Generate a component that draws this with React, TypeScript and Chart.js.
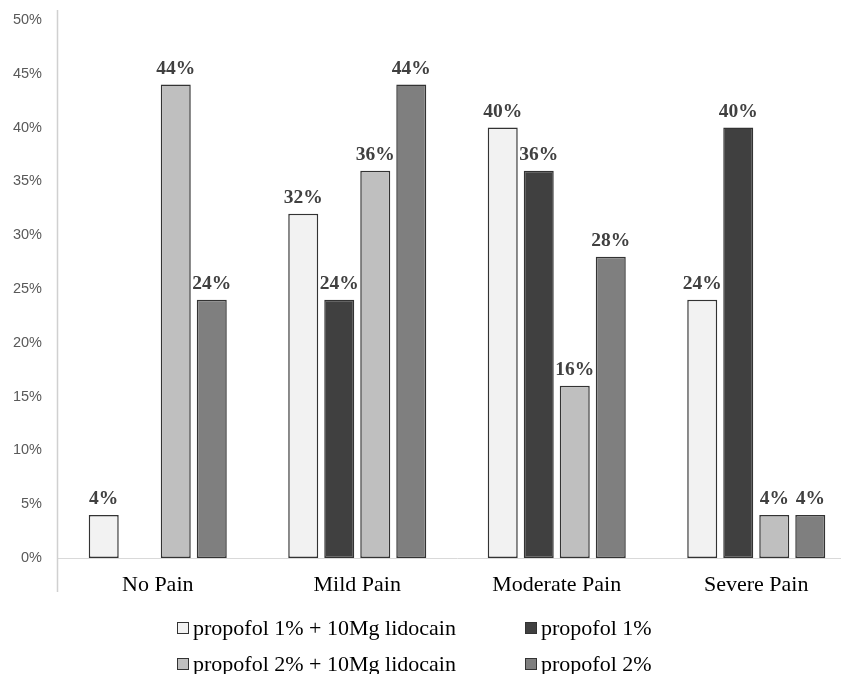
import React, { useEffect, useRef } from "react";
import { Chart, registerables } from "chart.js";

Chart.register(...registerables);

const categories = ["No Pain", "Mild Pain", "Moderate Pain", "Severe Pain"];
const seriesNames = [
  "propofol 1% + 10Mg lidocain",
  "propofol 1%",
  "propofol 2% + 10Mg lidocain",
  "propofol 2%",
];
const propofol1Lido = [4, 32, 40, 24];
const propofol1 = [0, 24, 36, 40];
const propofol2Lido = [44, 36, 16, 4];
const propofol2 = [24, 44, 28, 4];
const seriesColors = ["#f2f2f2", "#404040", "#bfbfbf", "#7f7f7f"];
const yMin = 0;
const yMax = 50;
const yStep = 5;

const seriesValues = [propofol1Lido, propofol1, propofol2Lido, propofol2];

const CANVAS_W = 856;
const CANVAS_H = 674;

const labelPlugin = {
  id: "barLabels",
  afterDatasetsDraw(chart: any) {
    const ctx = chart.ctx;
    ctx.save();
    ctx.font = 'bold 19.5px "Liberation Serif"';
    ctx.fillStyle = "#404040";
    ctx.textAlign = "center";
    ctx.textBaseline = "alphabetic";
    chart.data.datasets.forEach((ds: any, i: number) => {
      const meta = chart.getDatasetMeta(i);
      meta.data.forEach((bar: any, j: number) => {
        const v = ds.data[j];
        if (v > 0) ctx.fillText(v + "%", bar.x, bar.y - 11);
      });
    });
    ctx.restore();
  },
};

const axisLinePlugin = {
  id: "axisLine",
  beforeDatasetsDraw(chart: any) {
    const { ctx, chartArea } = chart;
    ctx.save();
    ctx.strokeStyle = "#d0d0d0";
    ctx.lineWidth = 1.5;
    ctx.beginPath();
    ctx.moveTo(chartArea.left - 0.5, chartArea.top - 10);
    ctx.lineTo(chartArea.left - 0.5, chartArea.bottom + 34);
    ctx.stroke();
    ctx.restore();
  },
};

export default function App() {
  const ref = useRef<HTMLCanvasElement | null>(null);

  useEffect(() => {
    if (!ref.current) return;
    const chart = new Chart(ref.current, {
      type: "bar",
      data: {
        labels: categories,
        datasets: seriesNames.map((name, i) => ({
          label: name,
          data: seriesValues[i],
          backgroundColor: seriesColors[i],
          borderColor: "#333333",
          borderWidth: (c: any) => (c.raw > 0 ? 1.5 : 0),
          borderSkipped: false,
          categoryPercentage: 0.722,
          barPercentage: 0.833,
        })),
      },
      options: {
        responsive: false,
        animation: false,
        devicePixelRatio: 1,
        layout: { padding: { top: 20, right: 0, left: 0, bottom: 0 } },
        plugins: {
          legend: { display: false },
          tooltip: { enabled: false },
        },
        scales: {
          x: {
            type: "category",
            offset: true,
            grid: { display: false, drawTicks: false },
            border: { display: true, color: "#d9d9d9", width: 1 },
            ticks: {
              font: { family: "Liberation Serif", size: 22 },
              color: "#000000",
              padding: 14,
            },
            afterFit: (s: any) => {
              s.height = 116;
            },
          },
          y: {
            min: yMin,
            max: yMax,
            grid: { display: false, drawTicks: false },
            border: { display: false },
            ticks: {
              stepSize: yStep,
              callback: (v: any) => v + "%",
              font: { family: "Liberation Sans", size: 14.5 },
              color: "#595959",
              padding: 16,
            },
            afterFit: (s: any) => {
              s.width = 58;
              s.paddingTop = 0;
              s.paddingBottom = 0;
            },
          },
        },
      },
      plugins: [labelPlugin, axisLinePlugin],
    } as any);
    return () => chart.destroy();
  }, []);

  const legendPos = [
    { left: 177, top: 617 },
    { left: 525, top: 617 },
    { left: 177, top: 653 },
    { left: 525, top: 653 },
  ];

  return (
    <div
      style={{
        position: "fixed",
        left: 0,
        top: 0,
        width: 841,
        height: 674,
        overflow: "hidden",
        background: "#ffffff",
      }}
    >
      <canvas
        ref={ref}
        width={CANVAS_W}
        height={CANVAS_H}
        style={{ position: "absolute", left: 0, top: 0, width: CANVAS_W, height: CANVAS_H }}
      />
      {seriesNames.map((name, i) => (
        <React.Fragment key={name}>
          <div
            style={{
              position: "absolute",
              left: legendPos[i].left,
              top: legendPos[i].top + 5,
              width: 10,
              height: 10,
              background: seriesColors[i],
              border: "1px solid #333333",
            }}
          />
          <div
            style={{
              position: "absolute",
              left: legendPos[i].left + 16,
              top: legendPos[i].top,
              fontFamily: '"Liberation Serif", serif',
              fontSize: 22,
              lineHeight: "22px",
              color: "#000000",
              whiteSpace: "nowrap",
            }}
          >
            {name}
          </div>
        </React.Fragment>
      ))}
    </div>
  );
}
